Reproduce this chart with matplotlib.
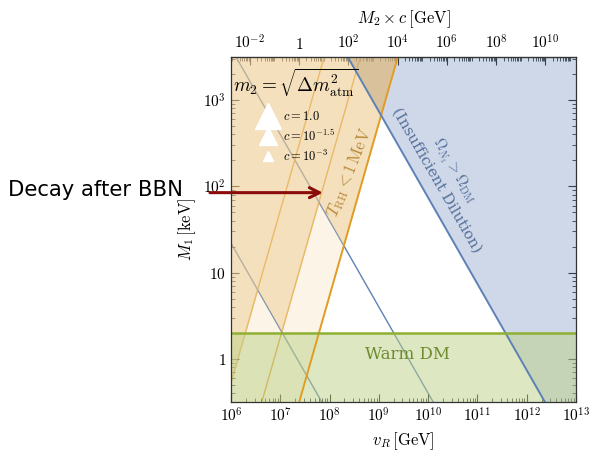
import numpy as np
import matplotlib
matplotlib.use('Agg')
import matplotlib.pyplot as plt
from matplotlib.ticker import LogLocator, NullFormatter

plt.rcParams['mathtext.fontset'] = 'cm'
plt.rcParams['font.family'] = 'serif'

# axis ranges
vR_lim = [1e6, 1e13]          # GeV
M1_lim = [10**-0.5, 10**3.5]  # keV

# legend entries (c values)
c_labels = [r'$c = 1.0$', r'$c = 10^{-1.5}$', r'$c = 10^{-3}$']
marker_sizes = [19, 13, 7]

# M1 [keV] on the T_RH = 1 MeV line at vR = 1e8 GeV (slope +2), one per c
trh_M1_1e8 = [5.4, 178.0, 5250.0]
# M1 [keV] on the dilution line at vR = 1e10 GeV (slope -1), one per c
dil_M1_1e10 = [74.0, 0.40, 0.0022]
# warm DM bound
warm_dm_M1 = 2.0
# top axis: M2*c = k * vR^2
M2c_per_vR2 = 1.74e-15

# arrow "decay after BBN"
arrow_M1 = 84.6
arrow_vR = [3.75e5, 7.3e7]

xtick_vals = [1e6, 1e7, 1e8, 1e9, 1e10, 1e11, 1e12, 1e13]
xtick_labels = [r'$10^{6}$', r'$10^{7}$', r'$10^{8}$', r'$10^{9}$', r'$10^{10}$',
                r'$10^{11}$', r'$10^{12}$', r'$10^{13}$']
ytick_vals = [1, 10, 100, 1000]
ytick_labels = [r'$1$', r'$10$', r'$10^{2}$', r'$10^{3}$']
toptick_vals = [1e-2, 1, 1e2, 1e4, 1e6, 1e8, 1e10]
toptick_labels = [r'$10^{-2}$', r'$1$', r'$10^{2}$', r'$10^{4}$', r'$10^{6}$',
                  r'$10^{8}$', r'$10^{10}$']

# Mathematica default colours
blue = '#5E81B5'
orange = '#E19C24'
green = '#8FB032'
orange_fill = (238/255, 205/255, 147/255)
overlap_fill = (200/255, 160/255, 100/255)
green_fill = (189/255, 209/255, 135/255)


def main():
    fig = plt.figure(figsize=(5.9, 4.51), dpi=100)
    ax = fig.add_axes([0.3915, 0.1086, 0.5848, 0.765])
    ax.set_xscale('log')
    ax.set_yscale('log')

    vR = np.geomspace(vR_lim[0], vR_lim[1], 4000)
    trh = [m * (vR / 1e8)**2 for m in trh_M1_1e8]
    dil = [m * (vR / 1e10)**-1 for m in dil_M1_1e10]
    lo = M1_lim[0] * 0.9
    hi = M1_lim[1] * 1.1

    # allowed wedges of the smaller c values
    wedge = np.maximum(np.minimum(trh[1], dil[1]), np.minimum(trh[2], dil[2]))
    lo_med = np.maximum(trh[0], wedge)

    # thin lines (c != 1) under the fills
    for i in (1, 2):
        ax.plot(vR, trh[i], color=orange, lw=1.0, zorder=1)
        ax.plot(vR, dil[i], color=blue, lw=1.0, zorder=1)

    ax.fill_between(vR, np.clip(dil[0], lo, hi), hi, color=blue, alpha=0.3,
                    lw=0, zorder=2)
    ax.fill_between(vR, np.clip(lo_med, lo, hi), hi, color=orange_fill, alpha=0.62,
                    lw=0, zorder=3)
    ax.fill_between(vR, np.clip(trh[0], lo, hi), np.clip(lo_med, lo, hi),
                    color=orange_fill, alpha=0.22, lw=0, zorder=3)
    # both bounds violated (c = 1)
    ax.fill_between(vR, np.clip(np.maximum(trh[0], dil[0]), lo, hi), hi,
                    color=overlap_fill, alpha=0.3, lw=0, zorder=3)
    ax.fill_between(vR, lo, warm_dm_M1, color=green_fill, alpha=0.5, lw=0, zorder=4)

    ax.plot(vR, trh[0], color=orange, lw=1.4, zorder=5)
    ax.plot(vR, dil[0], color=blue, lw=1.4, zorder=5)
    ax.axhline(warm_dm_M1, color=green, lw=1.8, zorder=6)

    ax.set_xlim(vR_lim)
    ax.set_ylim(M1_lim)

    ax.text(2.6e8, 146, r'$T_{\rm RH} < 1\,{\rm MeV}$', rotation=68,
            rotation_mode='anchor', ha='center', va='center', fontsize=12,
            color='#B8883A', zorder=7)
    ax.text(2.3e10, 137, r'$\Omega_{N_1} > \Omega_{\rm DM}$' + '\n' + r'(Insufficient Dilution)',
            rotation=-60, rotation_mode='anchor', ha='center', va='center',
            fontsize=10.8, color='#56719C', linespacing=1.25, zorder=7)
    ax.text(3.9e9, 1.13, r'Warm DM', ha='center', va='center', fontsize=12,
            color='#6E8A2E', zorder=7)
    ax.text(0.006, 0.925, r'$m_2 = \sqrt{\Delta m^2_{\rm atm}}$', transform=ax.transAxes,
            ha='left', va='center', fontsize=13.8, zorder=7)

    # legend: white triangles of different size
    row_y = [0.829, 0.7696, 0.713]
    for lab, s, y in zip(c_labels, marker_sizes, row_y):
        ax.plot([0.107], [y], ls='', marker='^', ms=s, color='white', mec='white',
                transform=ax.transAxes, zorder=8)
        ax.text(0.1507, y, lab, transform=ax.transAxes, ha='left', va='center',
                fontsize=9, zorder=8)

    ax.annotate('', xy=(arrow_vR[1], arrow_M1), xytext=(arrow_vR[0], arrow_M1),
                arrowprops=dict(arrowstyle='->', color='#8B0A0A', lw=2.2,
                                mutation_scale=18, shrinkA=0, shrinkB=0),
                annotation_clip=False, zorder=8)
    fig.text(0.0135, 0.579, 'Decay after BBN', family='DejaVu Sans', fontsize=15.2,
             ha='left', va='center')

    ax.set_xticks(xtick_vals)
    ax.set_xticklabels(xtick_labels)
    ax.set_yticks(ytick_vals)
    ax.set_yticklabels(ytick_labels)
    ax.xaxis.set_minor_locator(LogLocator(subs=np.arange(2, 10), numticks=100))
    ax.yaxis.set_minor_locator(LogLocator(subs=np.arange(2, 10), numticks=100))
    ax.xaxis.set_minor_formatter(NullFormatter())
    ax.yaxis.set_minor_formatter(NullFormatter())
    ax.tick_params(which='both', direction='in', right=True, top=False,
                   labelsize=11, color='#222222')
    ax.tick_params(which='major', length=6)
    ax.tick_params(which='minor', length=3)
    for s in ax.spines.values():
        s.set_color('#333333')
        s.set_linewidth(0.9)
        s.set_zorder(9)

    ax.set_xlabel(r'$v_R\,[{\rm GeV}]$', fontsize=12)
    ax.set_ylabel(r'$M_1\,[{\rm keV}]$', fontsize=12)

    top = ax.secondary_xaxis('top', functions=(lambda v: M2c_per_vR2 * np.abs(v)**2,
                                               lambda m: np.sqrt(np.abs(m) / M2c_per_vR2)))
    top.set_xticks(toptick_vals)
    top.set_xticklabels(toptick_labels)
    top.xaxis.set_minor_locator(LogLocator(subs=np.arange(1, 10), numticks=100))
    top.xaxis.set_minor_formatter(NullFormatter())
    top.tick_params(which='both', direction='in', labelsize=11, color='#222222')
    top.tick_params(which='major', length=6)
    top.tick_params(which='minor', length=3)
    top.set_xlabel(r'$M_2 \times c\,[{\rm GeV}]$', fontsize=12, labelpad=8)

    fig.savefig('out.png', dpi=100)


main()
